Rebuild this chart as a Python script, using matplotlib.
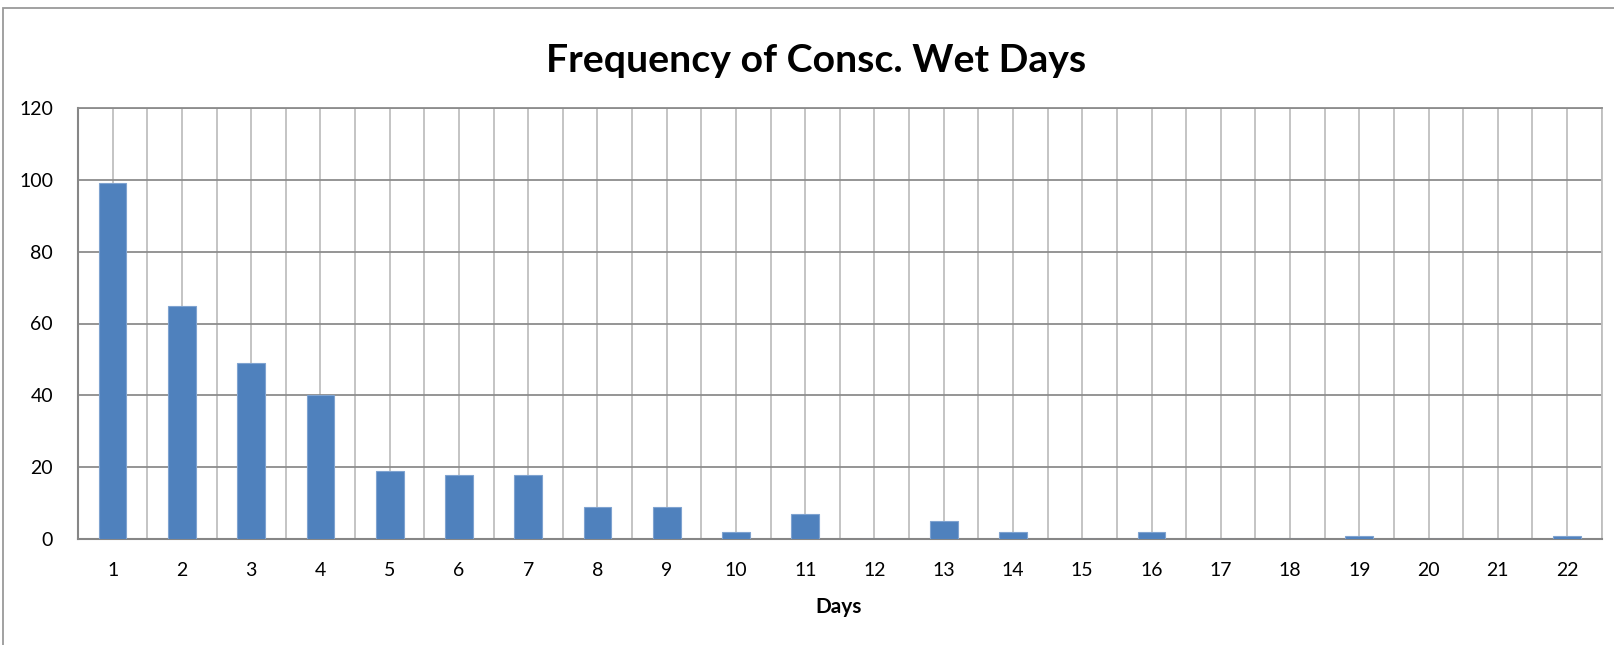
import numpy as np
import matplotlib
matplotlib.use('Agg')
import matplotlib.pyplot as plt
from matplotlib.patches import Rectangle

plt.rcParams['font.family'] = ['Lato', 'DejaVu Sans']

# run lengths of consecutive wet days and how often each occurred
days = list(range(1, 23))
freq = [99, 65, 49, 40, 19, 18, 18, 9, 9, 2, 7, 0, 5, 2, 0, 2, 0, 0, 1, 0, 0, 1]
yticks = [0, 20, 40, 60, 80, 100, 120]

W, H = 1615, 645
fig = plt.figure(figsize=(W / 100, H / 100), dpi=100)
ax = fig.add_axes([78 / W, 1 - 539.3 / H, (1601.7 - 78) / W, (539.3 - 107.7) / H])

ax.bar(days, freq, width=0.4, color='#4F81BD', edgecolor='#7FA3D0', linewidth=0.8, zorder=3)

ax.set_xlim(0.5, 22.5)
ax.set_ylim(0, 120)
ax.set_xticks(days)
ax.set_xticks(np.arange(0.5, 23, 1), minor=True)
ax.set_yticks(yticks)
ax.tick_params(axis='both', which='both', length=0, labelsize=14, colors='black')
ax.tick_params(axis='x', pad=16.5)
ax.tick_params(axis='y', pad=18)

ax.set_axisbelow(True)
ax.grid(axis='x', which='both', color='#BFBFBF', linewidth=1.3)
ax.grid(axis='y', which='major', color='#8C8C8C', linewidth=1.3)

for s in ['left', 'bottom']:
    ax.spines[s].set_color('#868686')
    ax.spines[s].set_linewidth(1.5)
ax.spines['top'].set_color('#8C8C8C')
ax.spines['top'].set_linewidth(1.3)
ax.spines['right'].set_color('#BFBFBF')
ax.spines['right'].set_linewidth(1.3)

fig.text(815.6 / W, 1 - 72 / H, 'Frequency of Consc. Wet Days', ha='center', va='baseline',
         fontsize=28.3, fontweight='bold')
fig.text(839 / W, 1 - 613 / H, 'Days', ha='center', va='baseline', fontsize=15, fontweight='bold')

# chart frame, open at the right and bottom
fig.patches.append(Rectangle((3 / W, -0.1), 1.2, 1.1 - 8 / H, transform=fig.transFigure,
                             fill=False, edgecolor='#9A9A9A', linewidth=1.3))

fig.savefig('out.png', dpi=100)
